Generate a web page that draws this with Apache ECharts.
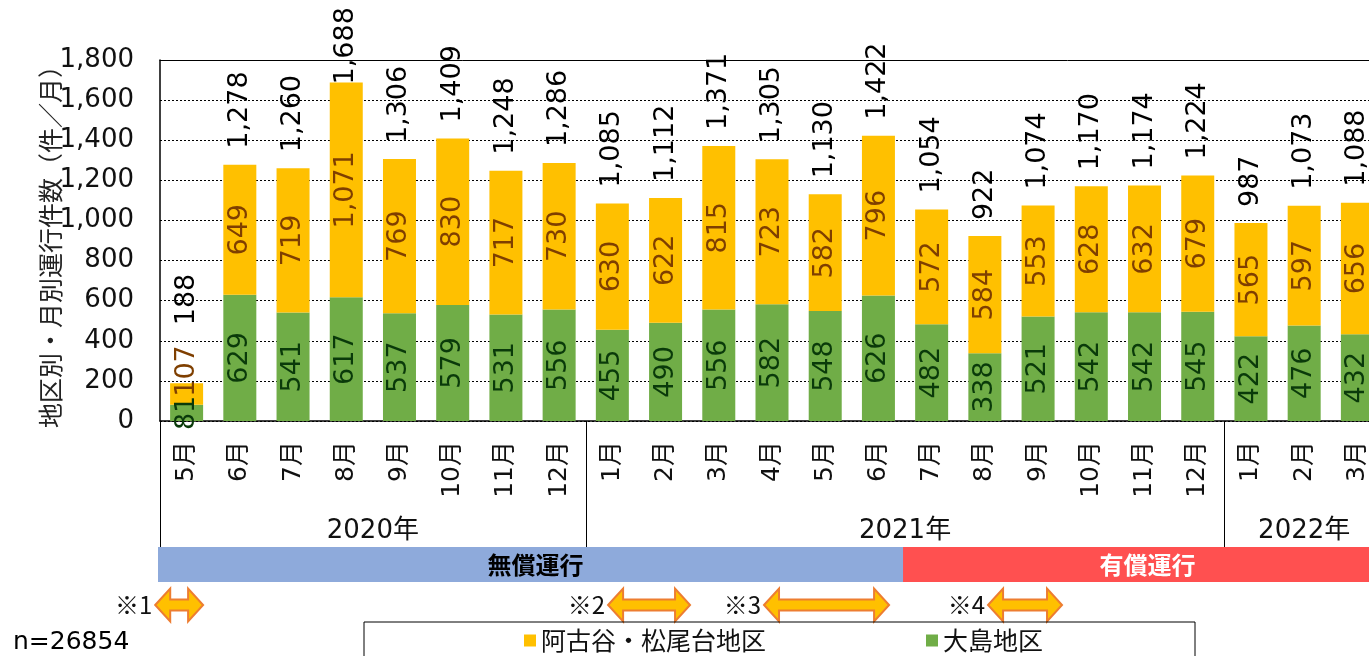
<!DOCTYPE html>
<html><head><meta charset="utf-8">
<script src="https://cdn.jsdelivr.net/npm/echarts@6/dist/echarts.min.js"></script>
<style>html,body{margin:0;padding:0;background:#fff}#c{width:1369px;height:656px}</style>
</head><body><div id="c"></div>
<script>
const months = ['5月','6月','7月','8月','9月','10月','11月','12月',
  '1月','2月','3月','4月','5月','6月','7月','8月','9月','10月','11月','12月',
  '1月','2月','3月'];
const years = ['2020年','2021年','2022年'];
const yearMonthCounts = [8, 12, 3];
const oshima = [81,629,541,617,537,579,531,556,455,490,556,582,548,626,482,338,521,542,542,545,422,476,432];
const akoya  = [107,649,719,1071,769,830,717,730,630,622,815,723,582,796,572,584,553,628,632,679,565,597,656];
const totals = [188,1278,1260,1688,1306,1409,1248,1286,1085,1112,1371,1305,1130,1422,1054,922,1074,1170,1174,1224,987,1073,1088];
const phases = [
  {name:'無償運行', from:0, to:14, color:'#8eaadb', text:'#000'},
  {name:'有償運行', from:14, to:23, color:'#ff5050', text:'#fff'}
];
const notes = [
  {label:'※1', from:-0.09, to:0.81},
  {label:'※2', from:8.42, to:9.96},
  {label:'※3', from:11.35, to:13.7},
  {label:'※4', from:15.56, to:16.95}
];
const sampleNote = 'n=26854';

const NUM = "'DejaVu Sans','Noto Sans CJK JP',sans-serif";
const JP = "'Noto Sans CJK JP',sans-serif";
const fmt = v => Number(v).toLocaleString('en-US');

const chart = echarts.init(document.getElementById('c'), null, {renderer:'canvas'});

const akoyaData = akoya.map((v,i) => i === 0 ? {value:v, label:{offset:[23,0]}} : v);
const totalData = totals.map((v,i) => i === 0 ? {value:v, label:{distance:58}} : (i === 3 ? {value:v, label:{distance:-2}} : v));

chart.setOption({
  animation:false,
  backgroundColor:'#fff',
  grid:{left:160, top:60, bottom:235, width:1224, containLabel:false, outerBoundsMode:'none'},
  legend:{
    data:['阿古谷・松尾台地区','大島地区'],
    left:364, top:622,
    padding:[6,152,30,160],
    itemGap:160, itemWidth:12, itemHeight:12,
    icon:'rect',
    borderColor:'#000', borderWidth:1,
    textStyle:{fontSize:25, fontFamily:JP, color:'#111'},
    selectedMode:false
  },
  xAxis:[
    {type:'category', data:months, position:'bottom',
     axisLine:{lineStyle:{color:'#000', width:1.5}},
     axisTick:{show:false},
     axisLabel:{rotate:90, margin:20, interval:0, fontSize:25, fontFamily:NUM, color:'#111'}},
    {type:'category', data:months, position:'top',
     axisLine:{show:true, lineStyle:{color:'#000', width:1}},
     axisTick:{show:false}, axisLabel:{show:false}}
  ],
  yAxis:{
    type:'value', min:0, max:1800, interval:200,
    name:'地区別・月別運行件数（件／月）', nameLocation:'middle', nameGap:97, nameRotate:90,
    nameMoveOverlap:false,
    nameTextStyle:{fontSize:25, fontFamily:JP, color:'#222'},
    axisLine:{show:true, lineStyle:{color:'#000', width:1.5}},
    axisTick:{show:false},
    splitLine:{lineStyle:{type:[2,2], color:'#000', width:1}},
    axisLabel:{fontSize:26, fontFamily:NUM, color:'#111', margin:26, formatter:v => fmt(v)}
  },
  series:[
    {name:'大島地区', type:'bar', stack:'s', data:oshima, barWidth:33, barGap:'-100%',
     itemStyle:{color:'#70ad47'},
     label:{show:true, position:'inside', rotate:90, fontSize:27, fontFamily:NUM, color:'#0a3a0a', formatter:p => fmt(p.value)}},
    {name:'阿古谷・松尾台地区', type:'bar', stack:'s', data:akoyaData, barWidth:33, barGap:'-100%',
     itemStyle:{color:'#ffc000'},
     label:{show:true, position:'inside', rotate:90, fontSize:27, fontFamily:NUM, color:'#7f3f00', formatter:p => fmt(p.value)}},
    {name:'合計', type:'bar', data:totalData, barWidth:33, barGap:'-100%', silent:true, z:1,
     itemStyle:{color:'rgba(0,0,0,0)'},
     label:{show:true, position:'top', distance:16, rotate:90, align:'left', verticalAlign:'middle',
            fontSize:27, fontFamily:NUM, color:'#000', formatter:p => fmt(p.value)}}
  ]
});

const c0 = chart.convertToPixel({xAxisIndex:0}, 0);
const c1 = chart.convertToPixel({xAxisIndex:0}, 1);
const bw = c1 - c0;
const catX = u => c0 - bw/2 + u*bw;
const yBase = chart.convertToPixel({yAxisIndex:0}, 0);
const bandTop = 547, bandH = 35, arrowY = 605;

const g = [];
let start = 0;
const bounds = [0];
yearMonthCounts.forEach((n,k) => {
  const xa = catX(start), xb = catX(start+n);
  g.push({type:'text', x:(xa+xb)/2, y:531, style:{text:years[k], fontSize:26, fontFamily:NUM, fill:'#111', align:'center', verticalAlign:'middle'}});
  start += n;
  bounds.push(start);
});
bounds.slice(0, yearMonthCounts.length).forEach(b => {
  const x = Math.round(catX(b)) + 0.5;
  g.push({type:'line', shape:{x1:x, y1:yBase, x2:x, y2:bandTop}, style:{stroke:'#000', lineWidth:1}});
});
phases.forEach(p => {
  const xa = catX(p.from), xb = catX(p.to);
  g.push({type:'rect', shape:{x:xa-2, y:bandTop, width:xb-xa+2, height:bandH}, style:{fill:p.color}});
  g.push({type:'text', x:(xa+xb)/2+3, y:bandTop+bandH/2, style:{text:p.name, fontSize:24, fontWeight:'bold', fontFamily:JP, fill:p.text, align:'center', verticalAlign:'middle'}});
});
notes.forEach(n => {
  const x1 = catX(n.from), x2 = catX(n.to), cy = arrowY, hl = 15, hh = 16.5, sh = 5.5;
  g.push({type:'polygon', shape:{points:[
    [x1,cy],[x1+hl,cy-hh],[x1+hl,cy-sh],[x2-hl,cy-sh],[x2-hl,cy-hh],[x2,cy],
    [x2-hl,cy+hh],[x2-hl,cy+sh],[x1+hl,cy+sh],[x1+hl,cy+hh]]},
    style:{fill:'#ffc000', stroke:'#ed7d31', lineWidth:2, lineJoin:'miter'}});
  g.push({type:'text', x:x1-3, y:cy, style:{text:n.label, fontSize:24, fontFamily:JP, fill:'#111', align:'right', verticalAlign:'middle'}});
});
g.push({type:'text', x:13, y:642, style:{text:sampleNote, fontSize:25, fontFamily:NUM, fill:'#000', align:'left', verticalAlign:'middle'}});

chart.setOption({graphic:g});
</script>
</body></html>
